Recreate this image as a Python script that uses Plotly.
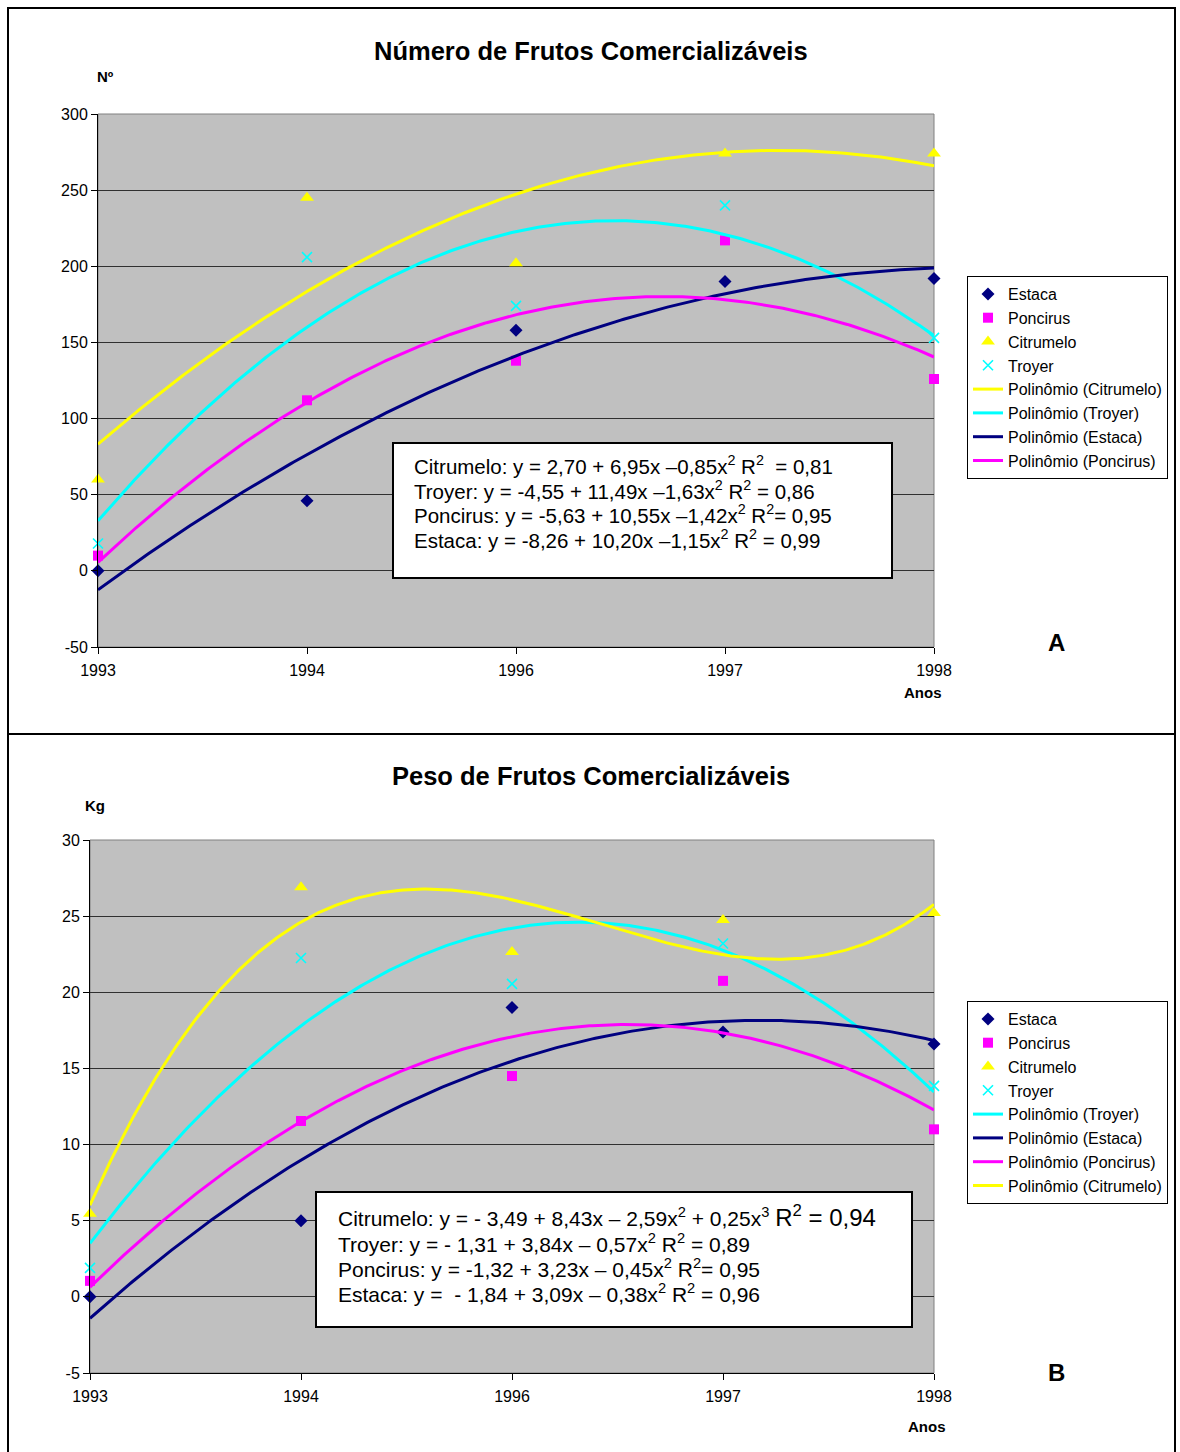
import numpy as np
import plotly.graph_objects as go

# ---------------- data ----------------
years = ['1993', '1994', '1996', '1997', '1998']
xpos = [1, 2, 3, 4, 5]

# Chart A: Número de frutos comercializáveis
a_estaca = [0, 46, 158, 190, 192]
a_poncirus = [10, 112, 138, 217, 126]
a_citrumelo = [60, 245, 202, 274, 274]
a_troyer = [18, 206, 174, 240, 153]
a_yticks = [-50, 0, 50, 100, 150, 200, 250, 300]
a_yticktext = ['-50', '0', '50', '100', '150', '200', '250', '300']

# Chart B: Peso de frutos comercializáveis (kg)
b_estaca = [0, 5.0, 19.0, 17.4, 16.6]
b_poncirus = [1.05, 11.55, 14.5, 20.75, 11.0]
b_citrumelo = [5.45, 26.9, 22.65, 24.75, 25.2]
b_troyer = [1.9, 22.25, 20.55, 23.2, 13.85]
b_yticks = [-5, 0, 5, 10, 15, 20, 25, 30]
b_yticktext = ['-5', '0', '5', '10', '15', '20', '25', '30']

eq_a = [
    "Citrumelo: y = 2,70 + 6,95x \u20130,85x<sup>2</sup> R<sup>2</sup>  = 0,81",
    "Troyer: y = -4,55 + 11,49x \u20131,63x<sup>2</sup> R<sup>2</sup> = 0,86",
    "Poncirus: y = -5,63 + 10,55x \u20131,42x<sup>2</sup> R<sup>2</sup>= 0,95",
    "Estaca: y = -8,26 + 10,20x \u20131,15x<sup>2</sup> R<sup>2</sup> = 0,99",
]
eq_b = [
    "Citrumelo: y = - 3,49 + 8,43x \u2013 2,59x<sup>2</sup> + 0,25x<sup>3</sup> "
    "<span style='font-size:24px'>R<sup>2</sup> = 0,94</span>",
    "Troyer: y = - 1,31 + 3,84x \u2013 0,57x<sup>2</sup> R<sup>2</sup> = 0,89",
    "Poncirus: y = -1,32 + 3,23x \u2013 0,45x<sup>2</sup> R<sup>2</sup>= 0,95",
    "Estaca: y =  - 1,84 + 3,09x \u2013 0,38x<sup>2</sup> R<sup>2</sup> = 0,96",
]

W, H = 1180, 1452
FONT = "Liberation Sans, Arial, sans-serif"

C_EST = "#000080"
C_PON = "#FF00FF"
C_CIT = "#FFFF00"
C_TRO = "#00FFFF"


def px(x):
    return x / W


def py(y):
    return 1 - y / H


xs = np.linspace(1, 5, 300)


def trend(vals, deg):
    c = np.polyfit(xpos, vals, deg)
    return np.polyval(c, xs)


fig = go.Figure()

markers = {
    "Estaca": dict(symbol="diamond", size=10, color=C_EST),
    "Poncirus": dict(symbol="square", size=10, color=C_PON),
    "Citrumelo": dict(symbol="triangle-up", size=12, color=C_CIT),
    "Troyer": dict(symbol="x-thin", size=10, color=C_TRO, line=dict(color=C_TRO, width=1.6)),
}
colors = {"Estaca": C_EST, "Poncirus": C_PON, "Citrumelo": C_CIT, "Troyer": C_TRO}


def add_chart(data, degs, order, xa, ya, legend):
    for name in ["Estaca", "Poncirus", "Citrumelo", "Troyer"]:
        fig.add_trace(go.Scatter(
            x=xpos, y=data[name], mode="markers", name=name,
            marker=markers[name], xaxis=xa, yaxis=ya, legend=legend,
            cliponaxis=False, hoverinfo="skip"))
    for name in order:
        fig.add_trace(go.Scatter(
            x=xs, y=trend(data[name], degs[name]), mode="lines",
            name=f"Polinômio ({name})", line=dict(color=colors[name], width=3),
            xaxis=xa, yaxis=ya, legend=legend, hoverinfo="skip"))


add_chart({"Estaca": a_estaca, "Poncirus": a_poncirus, "Citrumelo": a_citrumelo, "Troyer": a_troyer},
          {"Estaca": 2, "Poncirus": 2, "Citrumelo": 2, "Troyer": 2},
          ["Citrumelo", "Troyer", "Estaca", "Poncirus"], "x", "y", "legend")
add_chart({"Estaca": b_estaca, "Poncirus": b_poncirus, "Citrumelo": b_citrumelo, "Troyer": b_troyer},
          {"Estaca": 2, "Poncirus": 2, "Citrumelo": 3, "Troyer": 2},
          ["Troyer", "Estaca", "Poncirus", "Citrumelo"], "x2", "y2", "legend2")

xaxis_common = dict(
    range=[1, 5], tickvals=xpos, ticktext=years, showgrid=False, zeroline=False,
    showline=True, linecolor="black", linewidth=1, ticks="outside", ticklen=6,
    tickcolor="black", tickfont=dict(family=FONT, size=16, color="black"), ticklabelstandoff=3,
)
yaxis_common = dict(
    showgrid=True, gridcolor="#303030", gridwidth=1, zeroline=False,
    showline=True, linecolor="black", linewidth=1, ticks="outside", ticklen=6,
    tickcolor="black", tickfont=dict(family=FONT, size=16, color="black"),
)

legend_common = dict(
    xanchor="left", yanchor="top", bgcolor="white", bordercolor="black", borderwidth=1,
    font=dict(family=FONT, size=16, color="black"), tracegroupgap=0,
    itemclick=False, itemdoubleclick=False,
)

fig.update_layout(
    autosize=True,
    margin=dict(l=0, r=0, t=0, b=0, autoexpand=False),
    paper_bgcolor="white", plot_bgcolor="#C0C0C0",
    font=dict(family=FONT, color="black"),
    xaxis=dict(domain=[px(98), px(934)], anchor="y", **xaxis_common),
    yaxis=dict(domain=[py(647), py(114)], anchor="x", range=[-50, 300],
               tickvals=a_yticks, ticktext=a_yticktext, **yaxis_common),
    xaxis2=dict(domain=[px(90), px(934)], anchor="y2", **xaxis_common),
    yaxis2=dict(domain=[py(1373), py(840)], anchor="x2", range=[-5, 30],
                tickvals=b_yticks, ticktext=b_yticktext, **yaxis_common),
    legend=dict(x=px(967), y=py(276), **legend_common),
    legend2=dict(x=px(967), y=py(1001), **legend_common),
    showlegend=True,
)

shapes = [
    # outer frames
    dict(type="rect", xref="paper", yref="paper", x0=px(8), x1=px(1175), y0=py(734), y1=py(8),
         line=dict(color="black", width=2)),
    dict(type="rect", xref="paper", yref="paper", x0=px(8), x1=px(1175), y0=py(1460), y1=py(734),
         line=dict(color="black", width=2)),
    # plot area borders (gray top/right)
    dict(type="rect", xref="x domain", yref="y domain", x0=0, x1=1, y0=0, y1=1,
         line=dict(color="#808080", width=1), layer="below"),
    dict(type="rect", xref="x2 domain", yref="y2 domain", x0=0, x1=1, y0=0, y1=1,
         line=dict(color="#808080", width=1), layer="below"),
    # equation boxes
    dict(type="rect", xref="paper", yref="paper", x0=px(393), x1=px(892), y0=py(578), y1=py(443),
         line=dict(color="black", width=2), fillcolor="white", layer="above"),
    dict(type="rect", xref="paper", yref="paper", x0=px(316), x1=px(912), y0=py(1327), y1=py(1192),
         line=dict(color="black", width=2), fillcolor="white", layer="above"),
]
fig.update_layout(shapes=shapes)

ann = []


def text(x, y, s, size, bold=False, xanchor="center", family=FONT):
    ann.append(dict(
        xref="paper", yref="paper", x=px(x), y=py(y), text=f"<b>{s}</b>" if bold else s,
        showarrow=False, xanchor=xanchor, yanchor="middle",
        font=dict(family=family, size=size, color="black")))


text(591, 51, "Número de Frutos Comercializáveis", 25.5, bold=True)
text(591, 776, "Peso de Frutos Comercializáveis", 25.5, bold=True)
text(95, 77, "Nº", 15, bold=True, xanchor="left")
text(83, 805, "Kg", 15, bold=True, xanchor="left")
text(923, 692, "Anos", 15, bold=True)
text(927, 1426, "Anos", 15, bold=True)
text(1056, 642, "A", 24, bold=True)
text(1056, 1372, "B", 24, bold=True)

for i, s in enumerate(eq_a):
    text(412, 465 + i * 24.6, s, 20.5, xanchor="left")
for i, s in enumerate(eq_b):
    text(336, (1216 if i == 0 else 1218) + i * 25, s, 21, xanchor="left")

fig.update_layout(annotations=ann)

fig.write_html(
    "out.html",
    default_width="100vw",
    default_height="100vh",
    config={"responsive": True},
    post_script="document.documentElement.style.margin='0';"
                "document.body.style.margin='0';document.body.style.padding='0';"
                "document.documentElement.style.overflow='hidden';"
                "document.body.style.overflow='hidden';"
                "window.dispatchEvent(new Event('resize'));",
)
